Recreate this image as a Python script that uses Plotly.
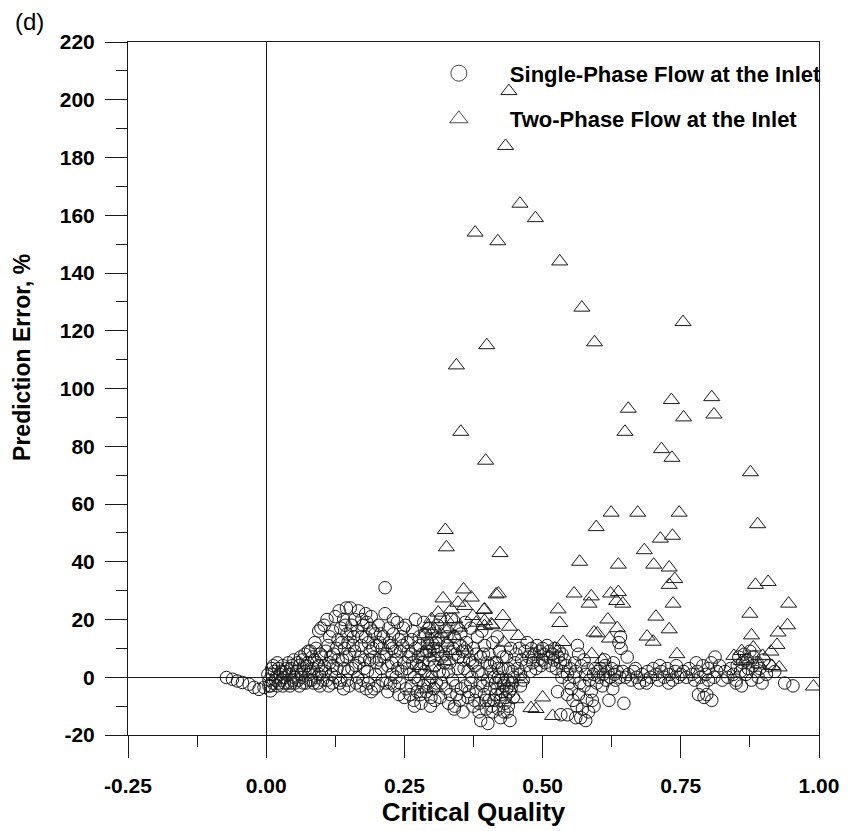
import plotly.graph_objects as go

# ---------------- data ----------------
single_phase = [
    # x < 0 tail
    (-0.072, -0.1), (-0.061, -0.7), (-0.052, -1.3), (-0.043, -1.8), (-0.031, -2.4),
    (-0.022, -3.5), (-0.013, -4.2), (-0.004, -3.5), (0.005, -3.0), (0.008, -4.7),
    # 0.00 - 0.05
    (0.005, -1), (0.01, 1), (0.012, -2), (0.015, 2), (0.018, 0), (0.02, -3), (0.022, 3),
    (0.025, 1), (0.028, -1), (0.03, 4), (0.032, 0), (0.035, 2), (0.038, -2), (0.04, 5),
    (0.042, 1), (0.045, 3), (0.048, -1), (0.05, 6), (0.05, 0), (0.02, 5), (0.01, 3),
    (0.03, -3), (0.045, -2),
    (0.003, 1), (0.008, -3), (0.013, 4), (0.017, -1), (0.023, -2), (0.027, 2), (0.033, -2),
    (0.037, 3), (0.043, -3), (0.047, 4),
    # 0.05 - 0.10
    (0.055, 2), (0.058, -1), (0.06, 4), (0.062, 7), (0.065, 0), (0.068, 3), (0.07, 8),
    (0.072, -2), (0.075, 5), (0.078, 1), (0.08, 9), (0.082, -1), (0.085, 3), (0.087, 6),
    (0.09, 10), (0.092, 0), (0.095, 4), (0.097, -3), (0.1, 7), (0.1, 2), (0.095, 16),
    (0.099, 17), (0.06, -3), (0.088, 12), (0.07, 2), (0.083, 7), (0.093, -2),
    (0.052, -2), (0.057, 5), (0.063, 1), (0.067, -2), (0.073, 4), (0.077, -1), (0.081, 2),
    (0.086, -2), (0.091, 5), (0.096, 1), (0.098, 8), (0.076, 9), (0.066, 6),
    # 0.10 - 0.15
    (0.105, 18), (0.11, 20), (0.112, 11), (0.115, 5), (0.118, 1), (0.12, -2), (0.122, 8),
    (0.125, 21), (0.128, 3), (0.13, 13), (0.132, 23), (0.135, -1), (0.138, 6), (0.14, 20),
    (0.142, 10), (0.145, 24), (0.146, 15), (0.148, 2), (0.15, -3), (0.11, -1), (0.105, 4),
    (0.108, 9), (0.115, 14), (0.125, 0), (0.13, 6), (0.14, -4), (0.135, 17), (0.12, 16),
    (0.145, 7), (0.148, 12),
    (0.102, -1), (0.107, 2), (0.113, -3), (0.117, 7), (0.121, 4), (0.127, 10), (0.133, -2),
    (0.137, 12), (0.141, 3), (0.147, -1), (0.143, 18),
    # 0.15 - 0.20
    (0.152, 24), (0.155, 18), (0.158, 14), (0.16, 9), (0.162, 4), (0.165, 0), (0.167, 23),
    (0.17, -3), (0.172, 11), (0.175, 18), (0.178, 6), (0.18, 22), (0.18, 14), (0.183, 2),
    (0.185, -2), (0.188, 9), (0.19, 21), (0.192, 16), (0.195, -4), (0.197, 15), (0.2, 5),
    (0.2, 11), (0.155, 3), (0.16, 20), (0.17, 7), (0.175, -1), (0.185, 12), (0.19, -5),
    (0.195, 7), (0.165, 16), (0.182, 19),
    (0.151, 8), (0.157, 11), (0.163, -2), (0.168, 5), (0.173, 14), (0.177, 3), (0.181, -4),
    (0.187, 6), (0.193, 10), (0.198, 1), (0.153, 16), (0.173, 20), (0.188, 17),
    # 0.20 - 0.25
    (0.203, 18), (0.205, 12), (0.208, 3), (0.21, -1), (0.212, 14), (0.215, 22), (0.215, 31),
    (0.218, 8), (0.22, -5), (0.222, 17), (0.225, 11), (0.228, 1), (0.23, 15), (0.232, -3),
    (0.235, 6), (0.237, 19), (0.24, 13), (0.24, -6), (0.243, 9), (0.245, 2), (0.248, 17),
    (0.25, -7), (0.25, 5), (0.205, 6), (0.21, 10), (0.22, 4), (0.225, -2), (0.23, 20),
    (0.235, 0), (0.245, 14), (0.228, 10),
    (0.202, -3), (0.207, 15), (0.213, 7), (0.217, -2), (0.223, 12), (0.227, 5), (0.233, 9),
    (0.238, 3), (0.242, -2), (0.247, 11),
    # 0.25 - 0.30
    (0.252, 18), (0.255, 12), (0.258, 7), (0.26, 1), (0.262, -3), (0.265, 16), (0.267, -8),
    (0.27, 10), (0.272, 4), (0.275, -1), (0.277, 14), (0.28, -9), (0.282, 8), (0.285, 19),
    (0.287, 2), (0.29, -5), (0.292, 12), (0.295, 6), (0.297, -10), (0.3, 15), (0.3, 0),
    (0.26, -6), (0.27, 20), (0.28, 3), (0.29, 9), (0.255, 3), (0.265, 5), (0.275, 7),
    (0.285, -3), (0.295, 17), (0.298, -7),
    (0.253, -4), (0.257, 9), (0.263, 13), (0.268, 0), (0.273, -5), (0.278, 11), (0.283, 5),
    (0.288, 15), (0.293, -2), (0.296, 9), (0.268, -10), (0.279, -6), (0.262, 8),
    # 0.30 - 0.35
    (0.302, 10), (0.305, 4), (0.308, -2), (0.31, 18), (0.312, 13), (0.315, -7), (0.318, 7),
    (0.32, 1), (0.322, 16), (0.325, -4), (0.328, 11), (0.33, -9), (0.332, 5), (0.335, 20),
    (0.337, -1), (0.34, 14), (0.342, 8), (0.345, -6), (0.347, 3), (0.35, 11), (0.35, -8),
    (0.305, -8), (0.315, 20), (0.33, 2), (0.34, -11), (0.341, -10), (0.31, 9), (0.345, 17),
    (0.325, 8),
    (0.303, -4), (0.307, 12), (0.313, 2), (0.317, -2), (0.323, 5), (0.327, 14), (0.333, -6),
    (0.338, 10), (0.343, -3), (0.348, 7),
    # 0.35 - 0.40
    (0.352, 15), (0.355, 9), (0.356, -12), (0.358, 3), (0.36, -3), (0.362, 12), (0.365, -7),
    (0.368, 6), (0.37, 17), (0.372, 0), (0.374, -10), (0.375, 10), (0.378, 4), (0.38, -5),
    (0.382, 14), (0.385, -9), (0.388, -15), (0.388, 7), (0.39, 1), (0.392, -3), (0.395, 11),
    (0.397, -8), (0.4, 5), (0.4, -1), (0.36, 19), (0.37, -2), (0.38, 8), (0.39, 16),
    (0.395, -6), (0.365, 2), (0.385, -12),
    (0.353, -4), (0.357, 6), (0.363, 9), (0.367, -5), (0.373, 5), (0.377, -8), (0.383, 2),
    (0.387, -2), (0.393, 8), (0.398, -11),
    # 0.40 - 0.45
    (0.401, -16), (0.403, 8), (0.405, -4), (0.407, 2), (0.41, 12), (0.412, -8), (0.415, -2),
    (0.417, 5), (0.42, -11), (0.42, 0), (0.422, 9), (0.425, -6), (0.427, 3), (0.43, -3),
    (0.432, -9), (0.435, 7), (0.437, -1), (0.44, -5), (0.441, -15), (0.442, 10), (0.445, 2),
    (0.447, -7), (0.45, 5), (0.41, -12), (0.415, -6), (0.425, -1), (0.43, -12), (0.435, -4),
    (0.445, -2), (0.405, 4), (0.418, 14),
    (0.403, -8), (0.408, -10), (0.413, 0), (0.418, -4), (0.423, -8), (0.428, -5),
    (0.433, -7), (0.438, -10), (0.443, -4), (0.448, 0), (0.413, 5), (0.428, 7), (0.438, 3),
    (0.424, -14), (0.43, -2), (0.42, 3), (0.436, -12),
    # 0.45 - 0.50
    (0.452, 8), (0.455, 3), (0.458, 10), (0.46, 1), (0.462, 6), (0.465, -1), (0.468, 9),
    (0.47, 4), (0.472, 12), (0.475, 7), (0.478, 2), (0.48, 10), (0.482, 5), (0.485, 8),
    (0.488, 3), (0.49, 11), (0.492, 6), (0.495, 9), (0.497, 4), (0.5, 10), (0.5, 6),
    (0.46, -3),
    # 0.50 - 0.55
    (0.502, 8), (0.505, 5), (0.508, 11), (0.51, 7), (0.512, 9), (0.515, 4), (0.518, 8),
    (0.52, 6), (0.522, 10), (0.525, 3), (0.527, -5), (0.528, 7), (0.53, 9), (0.532, 5),
    (0.535, 8), (0.537, 2), (0.54, 6), (0.542, 4), (0.545, -6), (0.545, 1), (0.548, -2),
    (0.55, 3), (0.533, -13), (0.545, -13), (0.535, 0),
    # 0.55 - 0.60
    (0.552, -4), (0.555, -8), (0.557, 0), (0.56, -14), (0.56, 2), (0.562, -10), (0.563, 11),
    (0.565, -6), (0.567, -2), (0.569, -14), (0.57, 4), (0.572, -11), (0.575, -3),
    (0.578, -15), (0.578, 1), (0.58, -8), (0.582, 3), (0.585, -1), (0.588, -5), (0.59, -8),
    (0.592, 1), (0.593, -10), (0.595, 3), (0.598, -2), (0.6, 2), (0.558, 5), (0.565, 8),
    (0.575, 6), (0.583, -12),
    # 0.60 - 0.65
    (0.602, 0), (0.605, 3), (0.608, -3), (0.61, 1), (0.613, 4), (0.615, -1), (0.618, 2),
    (0.62, -8), (0.622, 0), (0.625, 3), (0.627, -4), (0.63, 1), (0.632, -1), (0.635, 2),
    (0.638, 12), (0.64, 0), (0.641, 14), (0.642, 10), (0.645, 2), (0.647, -9), (0.65, 0),
    (0.653, 7), (0.612, 6), (0.628, 5),
    # 0.65 - 0.75
    (0.655, 1), (0.66, -1), (0.665, 2), (0.67, 0), (0.675, -2), (0.68, 1), (0.685, -1),
    (0.69, 2), (0.695, 0), (0.7, 3), (0.705, 1), (0.71, -1), (0.715, 2), (0.72, 0),
    (0.725, 3), (0.73, 1), (0.735, -1), (0.74, 2), (0.745, 0), (0.75, 1), (0.668, 3),
    (0.688, -2), (0.712, 4), (0.728, -2), (0.742, 4),
    # 0.75 - 0.85
    (0.755, 2), (0.76, 0), (0.765, 3), (0.77, 1), (0.775, -1), (0.778, 5), (0.78, 2),
    (0.782, -6), (0.785, 0), (0.79, 4), (0.792, -7), (0.795, 1), (0.797, -6), (0.8, 3),
    (0.805, 5), (0.806, -8), (0.81, 0), (0.815, 2), (0.82, 4), (0.825, -1), (0.83, 2),
    (0.835, 0), (0.84, 3), (0.845, 1), (0.85, -1), (0.79, -3), (0.8, -1), (0.812, 7),
    # 0.85 - 0.95
    (0.852, 4), (0.855, 7), (0.858, 2), (0.86, -3), (0.862, 5), (0.865, 8), (0.868, 1),
    (0.87, 6), (0.872, 3), (0.875, 9), (0.878, -1), (0.88, 4), (0.882, 7), (0.885, 2),
    (0.888, 5), (0.89, 0), (0.893, 3), (0.897, -2), (0.9, 6), (0.905, 1), (0.91, 4),
    (0.92, 2), (0.938, -2), (0.953, -3), (0.85, -2),
]

two_phase = [
    (0.439, 203), (0.433, 184), (0.459, 164), (0.487, 159), (0.378, 154), (0.419, 151),
    (0.531, 144), (0.571, 128), (0.754, 123), (0.594, 116), (0.399, 115), (0.344, 108),
    (0.733, 96), (0.806, 97), (0.655, 93), (0.755, 90), (0.810, 91), (0.649, 85),
    (0.352, 85), (0.715, 79), (0.734, 76), (0.397, 75), (0.876, 71), (0.624, 57),
    (0.672, 57), (0.747, 57), (0.889, 53), (0.597, 52), (0.324, 51), (0.326, 45),
    (0.423, 43), (0.713, 48), (0.735, 49), (0.684, 44), (0.567, 40), (0.637, 39),
    (0.701, 39), (0.729, 38), (0.739, 34), (0.729, 32), (0.885, 32), (0.908, 33),
    (0.420, 29), (0.557, 29), (0.588, 28), (0.584, 25.5), (0.623, 29), (0.637, 29.5),
    (0.634, 26.4), (0.645, 25.5), (0.736, 25.5), (0.945, 25.5), (0.528, 23.5),
    (0.531, 18.8), (0.705, 21), (0.875, 22), (0.618, 20), (0.635, 17), (0.729, 16.6),
    (0.943, 18), (0.593, 15.5), (0.599, 15.2), (0.689, 14.1), (0.700, 12.3), (0.621, 13.4),
    (0.926, 15.5), (0.878, 14.5), (0.537, 12.2), (0.456, 14.3), (0.430, 12), (0.394, 23.3),
    (0.428, 21.2), (0.440, 17.5), (0.409, 18), (0.395, 19.5), (0.743, 8), (0.924, 11.2),
    (0.913, 8.9), (0.881, 10.3), (0.860, 9.1), (0.898, 7.4), (0.846, 7.4), (0.869, 6.2),
    (0.890, 4.5), (0.915, 3.9), (0.928, 3.4), (0.860, 5.6), (0.589, 8), (0.608, 6.2),
    (0.482, 8), (0.522, 9.9), (0.990, -3.2), (0.500, -7), (0.452, -7.6), (0.479, -10.7),
    (0.488, -11), (0.518, -13.4), (0.461, -0.7), (0.443, -1.8),
    (0.357, 30.4), (0.320, 27.3), (0.371, 27.6), (0.416, 28.7), (0.347, 25.8), (0.359, 24.7),
    (0.335, 23.5), (0.395, 23.5), (0.311, 22.4), (0.374, 21.2), (0.380, 18.9), (0.299, 20.1),
    (0.326, 20.1), (0.341, 20.1), (0.395, 17.7), (0.407, 18.3), (0.293, 17.7), (0.305, 16.6),
    (0.329, 16.6), (0.350, 17.2), (0.287, 14.9), (0.317, 14.9), (0.341, 14.3), (0.299, 13.1),
    (0.326, 12), (0.293, 10.8), (0.311, 9.7), (0.335, 9.1), (0.359, 10.3), (0.287, 8.5),
    (0.305, 6.8), (0.323, 5.6), (0.278, 3.9), (0.299, 3.4), (0.293, 0.5), (0.306, -3.6),
    (0.287, -4.2),
]

series_names = ["Single-Phase Flow at the Inlet", "Two-Phase Flow at the Inlet"]
x_tick_vals = [-0.25, 0.0, 0.25, 0.5, 0.75, 1.0]
x_tick_text = ["-0.25", "0.00", "0.25", "0.50", "0.75", "1.00"]
y_tick_vals = [-20, 0, 20, 40, 60, 80, 100, 120, 140, 160, 180, 200, 220]
y_tick_text = ["-20", "0", "20", "40", "60", "80", "100", "120", "140", "160", "180", "200", "220"]

INK = "#1a1a1a"
FONT = "Liberation Sans, Arial, Helvetica, sans-serif"

fig = go.Figure()
fig.add_trace(go.Scatter(
    x=[p[0] for p in single_phase], y=[p[1] for p in single_phase],
    mode="markers", name=series_names[0], showlegend=False,
    marker=dict(symbol="circle-open", size=12.5, color=INK, line=dict(width=1.0, color=INK)),
))
fig.add_trace(go.Scatter(
    x=[p[0] for p in two_phase], y=[p[1] for p in two_phase],
    mode="markers", name=series_names[1], showlegend=False,
    marker=dict(symbol="triangle-up-open", size=14, color=INK, line=dict(width=1.0, color=INK)),
))
# legend keys
fig.add_trace(go.Scatter(
    x=[None], y=[None], mode="markers", name=series_names[0], legendgroup="a",
    marker=dict(symbol="circle-open", size=16, color=INK, line=dict(width=0.8, color=INK)),
))
fig.add_trace(go.Scatter(
    x=[None], y=[None], mode="markers", name=series_names[1], legendgroup="b",
    marker=dict(symbol="triangle-up-open", size=16, color=INK, line=dict(width=0.8, color=INK)),
))

axis_common = dict(
    showline=True, linecolor=INK, linewidth=1, mirror=True,
    ticks="outside", ticklen=22, tickwidth=1, tickcolor=INK,
    showgrid=False, zeroline=True, zerolinecolor=INK, zerolinewidth=1,
    tickfont=dict(family=FONT, size=21, color="black", weight="bold"),
)

fig.update_layout(
    width=851, height=831,
    margin=dict(l=128, r=28, t=42, b=95),
    paper_bgcolor="white", plot_bgcolor="white",
    font=dict(family=FONT, color="black"),
    xaxis=dict(
        range=[-0.25, 1.0], tickvals=x_tick_vals, ticktext=x_tick_text,
        minor=dict(dtick=0.125, tick0=-0.25, ticklen=11, ticks="outside", tickcolor=INK, showgrid=False),
        title=dict(text="Critical Quality", font=dict(family=FONT, size=26, weight="bold"), standoff=4),
        ticklabelstandoff=10,
        **axis_common,
    ),
    yaxis=dict(
        range=[-20, 220], tickvals=y_tick_vals, ticktext=y_tick_text,
        minor=dict(dtick=10, tick0=0, ticklen=11, ticks="outside", tickcolor=INK, showgrid=False),
        ticklabelstandoff=6,
        **axis_common,
    ),
    legend=dict(
        x=0.405, y=0.985, xanchor="left", yanchor="top",
        bgcolor="rgba(0,0,0,0)", borderwidth=0,
        font=dict(family=FONT, size=22, color="black", weight="bold"),
        itemwidth=92, tracegroupgap=14, traceorder="grouped",
    ),
    annotations=[
        dict(
            text="(d)", xref="paper", yref="paper", x=-0.166, y=1.029,
            xanchor="left", yanchor="middle", showarrow=False,
            font=dict(family=FONT, size=24, color="black"),
        ),
        dict(
            text="Prediction Error, %", xref="paper", yref="paper", x=-0.1525, y=0.545,
            xanchor="center", yanchor="middle", textangle=-90, showarrow=False,
            font=dict(family=FONT, size=23, color="black", weight="bold"),
        ),
    ],
)

fig.write_html("out.html")
